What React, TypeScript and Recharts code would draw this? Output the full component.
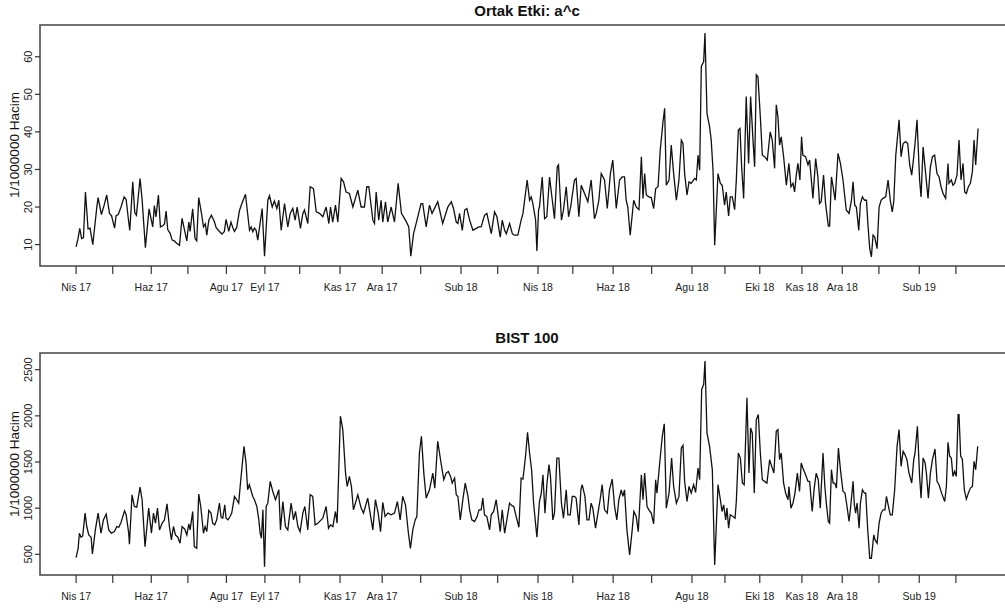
import React from 'react';
import { LineChart, Line, XAxis, YAxis, ReferenceArea } from 'recharts';

// trading-day index of the first session of each month
const monthTicks = [0, 20, 41, 61, 82, 103, 122, 144, 167, 188, 210, 230, 252, 271, 293, 314, 336, 354, 373, 396, 418, 438, 460, 480];
const monthLabels = ['Nis 17', '', 'Haz 17', '', 'Agu 17', 'Eyl 17', '', 'Kas 17', 'Ara 17', '', 'Sub 18', '', 'Nis 18', '', 'Haz 18', '', 'Agu 18', '', 'Eki 18', 'Kas 18', 'Ara 18', '', 'Sub 19', ''];

// Ortak Etki: a^c  (day index, value)
const topDays = [
  0, 1, 2, 3, 4, 5.1, 6.5, 7.6, 9.1, 11.3, 12, 13.8, 15.3, 16.7, 18.2, 19.3, 21, 21.8, 23, 24.5,
  26.2, 27.3, 28.7, 29.3, 30.9, 32, 32.9, 34.9, 36, 37.8, 39.8, 41.8, 42.7, 43.6, 44.9, 46, 47.3, 48.2, 49.1, 50,
  51.3, 52.4, 53.6, 54.5, 56.4, 57.8, 59.1, 60.4, 61.5, 62.2, 63.6, 64.9, 65.8, 66.9, 68.4, 69.5, 70.5, 71.3, 72.4, 73.8,
  75.5, 76.4, 78.2, 79.6, 80.9, 81.8, 83.3, 84.5, 85.5, 86.4, 87.6, 89.1, 90.5, 92.4, 94.6, 95.5, 96.4, 97.3, 98.2, 99.1,
  101.5, 102.8, 104.6, 105.5, 107, 108.2, 109.5, 110.6, 111.9, 113.7, 115.5, 116.8, 118.2, 119.5, 120.6, 122.4, 123.7, 124.6, 126.4, 127.7,
  129.5, 131, 132.8, 134.6, 136.4, 137.9, 138.8, 140, 141.5, 142.8, 144.6, 145.9, 147.3, 149.1, 151, 153.7, 155.5, 157.3, 158.6, 159.7,
  161.9, 162.8, 163.7, 165.1, 166.4, 167.3, 168.8, 170, 171.9, 173.7, 175.7, 177.5, 179.7, 181.5, 182.6, 184.1, 185.5, 188.2, 189.1, 191,
  192.8, 194.2, 197.3, 200, 202.8, 204.7, 205.9, 207.4, 208.3, 209.2, 210.7, 212, 213.2, 214.7, 216.5, 218.3, 219.8, 221, 222.8, 224.1,
  226.5, 228.3, 229.6, 231.4, 232.5, 233.8, 234.7, 236.5, 238, 239.2, 241, 242.8, 243.8, 246.1, 247.4, 248.3, 249.2, 250.7, 251.4, 252.3,
  252.8, 254.3, 255.6, 256.8, 258.3, 259.8, 261, 262.5, 263.2, 264.8, 265.9, 267.4, 268.7, 269.8, 271.9, 272.8, 274.3, 275.6, 277.4, 279.2,
  281, 282.8, 283.8, 285.2, 286.5, 288.3, 289.8, 291.5, 292.8, 294.7, 296.5, 297.9, 299.2, 300.1, 301, 302.3, 304.2, 305.6, 307.1, 308.4,
  309.3, 310.2, 311.1, 312.5, 313.8, 315.1, 316.2, 317.5, 318.7, 320.2, 321.1, 322, 323.5, 324.7, 326, 327.5, 328.9, 330.2, 331.1, 332,
  333.3, 334.4, 335.6, 337.5, 338.4, 339.3, 340.2, 341.1, 342.4, 343.1, 344.2, 345.6, 346.5, 347.5, 348.4, 350.2, 351.5, 352.5, 353.8, 354.7,
  356, 356.9, 358, 359.3, 360.2, 361.3, 362.2, 363.1, 364.2, 365.6, 366.9, 368, 369.3, 370.2, 371.1, 372, 373.3, 374.4, 375.6, 377.1,
  378.7, 379.8, 381.1, 382, 382.9, 383.8, 384.7, 386, 387.5, 388.9, 390, 391.1, 392, 392.9, 393.8, 394.9, 395.8, 396.5, 398, 399.3,
  400.2, 402, 403.5, 404.7, 405.6, 406.5, 407.8, 408.9, 410.4, 411.1, 412.1, 413, 414.1, 415.7, 417, 418.4, 420.2, 421.7, 423, 423.9,
  424.8, 425.7, 427, 427.9, 429, 430.2, 431.2, 432.1, 433, 433.9, 434.8, 435.7, 437, 438.1, 439.2, 440.2, 441.7, 443, 444.2, 445.3,
  446.1, 447.2, 449, 450.1, 451.2, 452.6, 453.7, 454.8, 455.9, 457, 457.7, 458.8, 460.2, 461, 462.1, 463.5, 464.8, 466.1, 467.2, 468.4,
  469.7, 470.8, 471.9, 473, 474.4, 475.7, 476.2, 477.5, 478.4, 479.3, 480.6, 481.7, 482.8, 483.9, 484.8, 485.7, 486.8, 487.9, 489, 489.9,
  490.8, 492.1,
];
const topVals = [
  9.4, 11.5, 14.3, 11.6, 11.8, 24.0, 14.2, 14.4, 10.0, 20.0, 22.5, 18.0, 20.5, 23.2, 18.3, 17.7, 14.4, 17.7, 18.0, 20.0,
  22.7, 22.0, 16.0, 13.8, 26.7, 18.5, 17.8, 27.6, 22.0, 9.2, 19.5, 14.7, 20.4, 17.4, 23.2, 14.7, 15.0, 15.5, 18.9, 14.0,
  13.0, 11.2, 11.0, 10.5, 9.8, 17.0, 14.0, 11.0, 16.0, 13.5, 19.5, 11.6, 11.0, 22.5, 18.3, 14.7, 15.5, 12.5, 16.5, 17.8,
  16.0, 14.5, 13.5, 12.8, 13.5, 16.7, 13.5, 16.0, 14.5, 13.5, 14.5, 19.0, 21.0, 23.4, 13.8, 14.7, 13.4, 14.4, 13.8, 11.2,
  19.6, 6.9, 21.8, 23.0, 20.0, 21.6, 19.6, 21.8, 13.8, 20.9, 14.7, 18.3, 19.6, 16.5, 20.0, 14.3, 18.3, 19.2, 15.6, 25.4,
  24.9, 18.7, 18.3, 17.4, 20.0, 15.6, 20.0, 16.0, 20.5, 16.0, 27.6, 26.7, 24.0, 23.6, 20.0, 24.5, 20.0, 20.0, 25.4, 25.4,
  16.5, 15.6, 24.0, 16.5, 21.8, 16.0, 21.4, 16.0, 20.0, 16.0, 26.3, 18.3, 16.5, 14.7, 6.9, 12.9, 15.6, 20.9, 20.9, 14.7,
  20.5, 18.3, 21.4, 15.6, 20.0, 21.4, 19.6, 16.0, 15.6, 18.3, 13.8, 19.2, 19.6, 16.5, 13.8, 14.3, 14.7, 14.7, 17.8, 18.3,
  12.9, 18.7, 17.4, 12.0, 16.5, 13.8, 12.9, 15.6, 12.9, 12.5, 12.5, 16.5, 18.3, 27.2, 21.8, 22.7, 20.9, 16.5, 8.3, 19.2,
  20.0, 28.0, 16.9, 17.4, 28.0, 21.8, 16.9, 30.7, 31.2, 16.5, 19.2, 25.4, 17.4, 20.0, 27.2, 27.6, 17.4, 25.8, 23.6, 21.4,
  27.2, 16.9, 18.3, 21.8, 28.9, 27.2, 19.6, 28.9, 32.5, 19.6, 27.2, 28.0, 28.0, 21.8, 20.0, 12.5, 21.8, 20.0, 19.3, 33.4,
  22.3, 28.9, 23.2, 22.7, 22.5, 19.6, 24.9, 25.4, 35.2, 42.7, 46.3, 25.8, 27.2, 36.5, 28.9, 21.8, 27.2, 37.8, 36.9, 28.9,
  23.2, 26.7, 26.3, 27.6, 27.2, 33.8, 29.8, 57.4, 58.7, 66.3, 44.9, 41.4, 37.8, 29.8, 9.8, 28.9, 26.3, 25.8, 20.5, 24.0,
  17.6, 22.7, 22.7, 19.3, 27.2, 40.5, 40.9, 30.7, 22.3, 49.4, 31.6, 49.4, 37.8, 30.7, 55.2, 54.7, 44.0, 33.8, 33.4, 32.5,
  40.0, 37.8, 30.3, 47.2, 44.0, 36.5, 38.7, 33.4, 25.8, 31.6, 25.4, 26.3, 24.0, 28.5, 31.6, 27.2, 38.7, 33.8, 33.4, 31.2,
  32.5, 22.3, 32.9, 28.0, 20.9, 21.4, 28.5, 20.9, 14.9, 14.9, 28.0, 25.4, 21.8, 34.3, 31.6, 27.2, 19.2, 18.3, 21.8, 26.7,
  20.5, 20.0, 13.8, 20.9, 22.7, 21.8, 21.8, 14.7, 8.9, 6.7, 12.5, 12.0, 8.9, 20.0, 21.8, 22.3, 22.7, 27.2, 21.8, 18.7,
  21.4, 33.8, 43.2, 33.4, 36.9, 37.4, 36.9, 31.2, 28.5, 33.4, 36.9, 43.2, 27.2, 22.7, 36.0, 28.9, 22.3, 30.7, 33.4, 33.8,
  28.9, 28.0, 25.4, 23.6, 22.3, 31.6, 26.3, 27.2, 25.8, 26.3, 28.5, 37.8, 27.2, 31.6, 24.0, 23.6, 25.4, 26.3, 29.4, 37.8,
  31.2, 40.9,
];

// BIST 100  (day index, value)
const bistDays = [
  0, 1.1, 1.8, 2.7, 3.6, 4.9, 5.8, 6.9, 8.2, 8.9, 10.5, 12, 13.6, 14.9, 16.4, 17.8, 19.3, 20.9, 22.2, 23.3,
  24.5, 26.4, 27.3, 28.7, 29.1, 30.5, 31.8, 33.1, 34.9, 36, 37.6, 39.6, 41.1, 42.2, 43.3, 44.4, 45.5, 46.9, 48.2, 49.6,
  50.9, 52, 53.1, 54.2, 55.5, 56.7, 57.8, 59.3, 60.4, 61.5, 62.2, 63.6, 64.5, 65.8, 66.9, 68, 69.5, 70.4, 71.3, 72.4,
  73.6, 74.5, 75.6, 76.7, 78.2, 79.1, 80, 81.1, 81.8, 82.9, 84, 84.9, 86.4, 87.6, 88.7, 89.5, 91.6, 92.7, 93.6, 94.5,
  96.4, 97.3, 98.6, 99.7, 100.4, 101.1, 101.9, 102.8, 103.7, 104.6, 105.9, 107.3, 108.8, 110.6, 111.5, 112.8, 114.2, 115.5, 117.3, 118.6,
  119.7, 121, 122.2, 123.7, 124.8, 126.4, 127.7, 129.1, 130.4, 131.9, 133.7, 134.6, 136.4, 137.7, 138.8, 140.1, 141.5, 142.4, 144.2, 145.5,
  147, 147.9, 149.1, 150.2, 151.3, 152.4, 153.7, 155.5, 156.8, 159.1, 160.4, 161.9, 163.3, 164.8, 166.1, 167.3, 168.6, 170.1, 171.9, 173.7,
  175.3, 176.8, 178.2, 179.7, 181.3, 182.4, 183.7, 185, 185.9, 187.3, 188.4, 189.7, 191, 192.8, 194.6, 195.7, 197.3, 199.1, 200.6, 201.9,
  203.1, 204.3, 205.2, 206.5, 207.4, 208.3, 209.6, 211, 212.3, 213.8, 214.7, 215.9, 217.4, 218.8, 219.8, 221, 221.9, 222.8, 224.1, 225.6,
  226.5, 227.8, 229.2, 230.1, 231.4, 232.5, 233.8, 235, 236.5, 237.9, 238.8, 240.1, 241.6, 242.8, 243.8, 245.2, 246.3, 247.4, 248.5, 249.6,
  251.4, 252.8, 253.8, 254.7, 255.8, 256.9, 258, 258.8, 260.1, 261, 262.3, 263.4, 264.8, 265.9, 267.4, 268.3, 269.6, 270.7, 271.9, 272.8,
  274.3, 275.4, 276.1, 277.6, 278.7, 279.8, 281, 281.9, 283.4, 284.7, 285.9, 287, 288.3, 289.8, 291, 292.5, 293.8, 295, 296.1, 297.4,
  298.3, 299.2, 300.5, 302, 303.4, 304.3, 305.6, 306.7, 308.4, 309.3, 310.2, 311.5, 312.5, 313.8, 315.1, 316.2, 316.9, 318.4, 319.8, 320.9,
  322, 323.5, 324.9, 326, 327.5, 328.9, 330.2, 331.1, 332, 333.3, 334.4, 335.6, 336.9, 338, 339.3, 340.2, 341.3, 342.4, 343.1, 344.2,
  345.6, 347.1, 348.4, 350.2, 351.5, 352.4, 353.3, 354.4, 355.1, 356, 356.9, 358.4, 359.5, 360.2, 361.3, 362.4, 363.5, 364.5, 366, 367.1,
  368, 368.9, 370, 371.1, 372.2, 373.3, 374.4, 375.6, 376.9, 378.4, 379.5, 380.7, 382, 382.9, 383.8, 384.7, 386, 387.1, 388.4, 388.9,
  390, 391.1, 392.2, 393.5, 394.7, 395.6, 396.5, 398, 399.3, 400.2, 401.6, 402.7, 403.8, 404.9, 406, 407.5, 408.5, 409.3, 410.4, 411.1,
  412.1, 413, 413.9, 414.8, 415.9, 417, 418.4, 419.5, 420.6, 421.7, 422.6, 423.9, 424.6, 425.3, 426.1, 427.2, 427.9, 429, 430.1, 430.8,
  431.9, 433, 433.9, 435.2, 435.9, 437, 438.1, 439.2, 440.2, 441.3, 442.1, 443.2, 444.2, 445.3, 446.6, 447.9, 449, 450.1, 451.2, 452.2,
  453.3, 454.4, 455.9, 457, 457.7, 459, 460.2, 461, 462.1, 463.2, 463.9, 465, 466.1, 467.2, 468.6, 469.7, 470.8, 472.2, 473.9, 474.8,
  475.7, 476.6, 477.5, 478.4, 479.3, 480.2, 481.2, 481.7, 482.6, 483.5, 484.6, 485.7, 486.8, 487.9, 489, 489.9, 490.8, 491.9,
];
const bistVals = [
  464, 565, 728, 685, 699, 946, 801, 710, 685, 504, 764, 946, 728, 873, 935, 764, 728, 746, 801, 793,
  844, 971, 928, 728, 609, 1145, 1018, 1011, 1228, 1091, 583, 1000, 728, 946, 837, 1000, 764, 837, 873, 1047,
  801, 656, 801, 710, 685, 620, 801, 772, 710, 830, 764, 964, 583, 565, 1152, 1018, 728, 801, 746, 975,
  946, 837, 819, 873, 1054, 902, 891, 1036, 891, 873, 909, 946, 1127, 1091, 1054, 1235, 1670, 1489, 1199, 1254,
  1127, 1091, 1018, 873, 728, 674, 982, 366, 1018, 1054, 1290, 1181, 1091, 1199, 764, 1072, 801, 764, 1054, 873,
  964, 801, 746, 946, 1018, 764, 1145, 1127, 819, 837, 873, 891, 1018, 783, 819, 801, 964, 837, 1996, 1851,
  1380, 1235, 1344, 1235, 982, 1054, 1145, 1000, 946, 1109, 946, 764, 1091, 946, 746, 1062, 909, 946, 928, 946,
  1072, 873, 1127, 1036, 728, 565, 764, 873, 909, 1598, 1779, 1380, 1109, 1199, 1380, 1217, 1725, 1489, 1308, 1380,
  1398, 1344, 1272, 1326, 1145, 1127, 873, 1091, 1272, 1127, 982, 873, 855, 909, 982, 982, 1109, 928, 909, 764,
  928, 964, 1091, 946, 746, 982, 728, 873, 1054, 1025, 1018, 909, 793, 1326, 1315, 1562, 1822, 1598, 1417, 1054,
  685, 1072, 1163, 1362, 946, 1272, 1471, 1344, 873, 946, 1543, 1543, 1054, 891, 1199, 928, 928, 1127, 1127, 1109,
  819, 1199, 1254, 1127, 873, 873, 1054, 1000, 783, 946, 1091, 1254, 982, 946, 1199, 1315, 1018, 873, 1091, 1199,
  1127, 1199, 764, 493, 764, 964, 909, 746, 1362, 1091, 1380, 1018, 982, 946, 830, 1308, 1163, 1489, 1779, 1913,
  1000, 1163, 1543, 1235, 1054, 1127, 1652, 1681, 1290, 1072, 1235, 1163, 1254, 1170, 1435, 1308, 2286, 2340, 2594, 1815,
  1670, 1417, 384, 1254, 1091, 964, 1036, 873, 1000, 783, 928, 909, 891, 1072, 1598, 1543, 1272, 1254, 2196, 1380,
  1869, 1815, 1163, 1960, 2014, 1598, 1308, 1290, 1272, 1525, 1453, 1380, 1833, 1851, 1525, 1598, 1272, 1163, 1091, 1235,
  1000, 1054, 1163, 1380, 1181, 1489, 1435, 1362, 1290, 1290, 964, 1217, 1380, 1308, 1000, 1598, 1235, 1054, 855, 837,
  1417, 1272, 1272, 1217, 1652, 1417, 1181, 1163, 1018, 855, 1018, 1290, 1036, 946, 1054, 783, 1054, 1199, 1163, 1163,
  764, 457, 457, 710, 656, 620, 837, 946, 982, 982, 1127, 1018, 928, 928, 1199, 1670, 1851, 1453, 1616, 1580,
  1525, 1380, 1272, 1525, 1598, 1888, 1344, 1109, 1543, 1489, 1380, 1109, 1380, 1525, 1641, 1290, 1254, 1163, 1072, 1235,
  1714, 1562, 1543, 1344, 1398, 1344, 2014, 2014, 1562, 1533, 1199, 1098, 1163, 1217, 1235, 1507, 1417, 1670,
];

const topTicks = [10, 20, 30, 40, 50, 60];
const bistTicks = [500, 1000, 1500, 2000, 2500];

const X_MIN = -19.7;
const X_MAX = 511.7;
const FONT = '"Liberation Sans", Arial, Helvetica, sans-serif';
const INK = '#222';

type PanelProps = {
  days: number[];
  vals: number[];
  yDomain: [number, number];
  yTicks: number[];
  height: number;
  marginTop: number;
};

function Panel({ days, vals, yDomain, yTicks, height, marginTop }: PanelProps) {
  const data = days.map((d, i) => ({ d, v: vals[i] }));
  const XTick = (props: any) => {
    const { x, y, index } = props;
    const label = monthLabels[index] ?? '';
    return (
      <text x={x} y={y + 15} textAnchor="middle" fontFamily={FONT} fontSize={10.5} fill={INK}>
        {label}
      </text>
    );
  };
  const YTick = (props: any) => {
    const { y, payload } = props;
    return (
      <text
        x={0}
        y={0}
        transform={`translate(31.5, ${y}) rotate(-90)`}
        textAnchor="middle"
        fontFamily={FONT}
        fontSize={11}
        fill={INK}
      >
        {payload.value}
      </text>
    );
  };
  return (
    <LineChart width={1014} height={height} data={data} margin={{ top: marginTop, right: 0, bottom: 0, left: 0 }}>
      <XAxis
        dataKey="d"
        type="number"
        domain={[X_MIN, X_MAX]}
        allowDataOverflow
        ticks={monthTicks}
        interval={0}
        height={34}
        axisLine={false}
        tickLine={{ stroke: '#333', strokeWidth: 1.2 }}
        tickSize={8}
        tickMargin={2}
        tick={<XTick />}
      />
      <YAxis
        type="number"
        domain={yDomain}
        allowDataOverflow
        ticks={yTicks}
        interval={0}
        width={40}
        axisLine={false}
        tickLine={{ stroke: '#333', strokeWidth: 1.2 }}
        tickSize={5}
        tick={<YTick />}
      />
      <ReferenceArea
        x1={X_MIN}
        x2={X_MAX}
        y1={yDomain[0]}
        y2={yDomain[1]}
        fill="none"
        stroke="#444"
        strokeWidth={1.5}
        ifOverflow="visible"
      />
      <Line
        type="linear"
        dataKey="v"
        stroke="#111"
        strokeWidth={1.3}
        dot={false}
        activeDot={false}
        isAnimationActive={false}
      />
    </LineChart>
  );
}

const titleStyle: React.CSSProperties = {
  position: 'absolute',
  left: 0,
  width: 1054,
  textAlign: 'center',
  fontFamily: FONT,
  fontWeight: 'bold',
  fontSize: 15,
  lineHeight: '16px',
  color: '#111',
};

const yLabelStyle: React.CSSProperties = {
  position: 'absolute',
  left: -85,
  width: 200,
  height: 16,
  lineHeight: '16px',
  textAlign: 'center',
  fontFamily: FONT,
  fontSize: 13.5,
  color: '#111',
  transform: 'rotate(-90deg)',
};

export default function App() {
  return (
    <div
      style={{
        position: 'fixed',
        left: 0,
        top: 0,
        width: 1005,
        height: 610,
        overflow: 'hidden',
        background: '#fff',
      }}
    >
      <div style={{ position: 'absolute', left: 0, top: 0 }}>
        <Panel days={topDays} vals={topVals} yDomain={[4.3, 68.45]} yTicks={topTicks} height={300} marginTop={25} />
      </div>
      <div style={{ position: 'absolute', left: 0, top: 300 }}>
        <Panel days={bistDays} vals={bistVals} yDomain={[275.7, 2681]} yTicks={bistTicks} height={309} marginTop={53} />
      </div>
      <div style={{ ...titleStyle, top: 3 }}>Ortak Etki: a^c</div>
      <div style={{ ...titleStyle, top: 330 }}>BIST 100</div>
      <div style={{ ...yLabelStyle, top: 137 }}>1/1000000 Hacim</div>
      <div style={{ ...yLabelStyle, top: 456 }}>1/1000000 Hacim</div>
    </div>
  );
}
